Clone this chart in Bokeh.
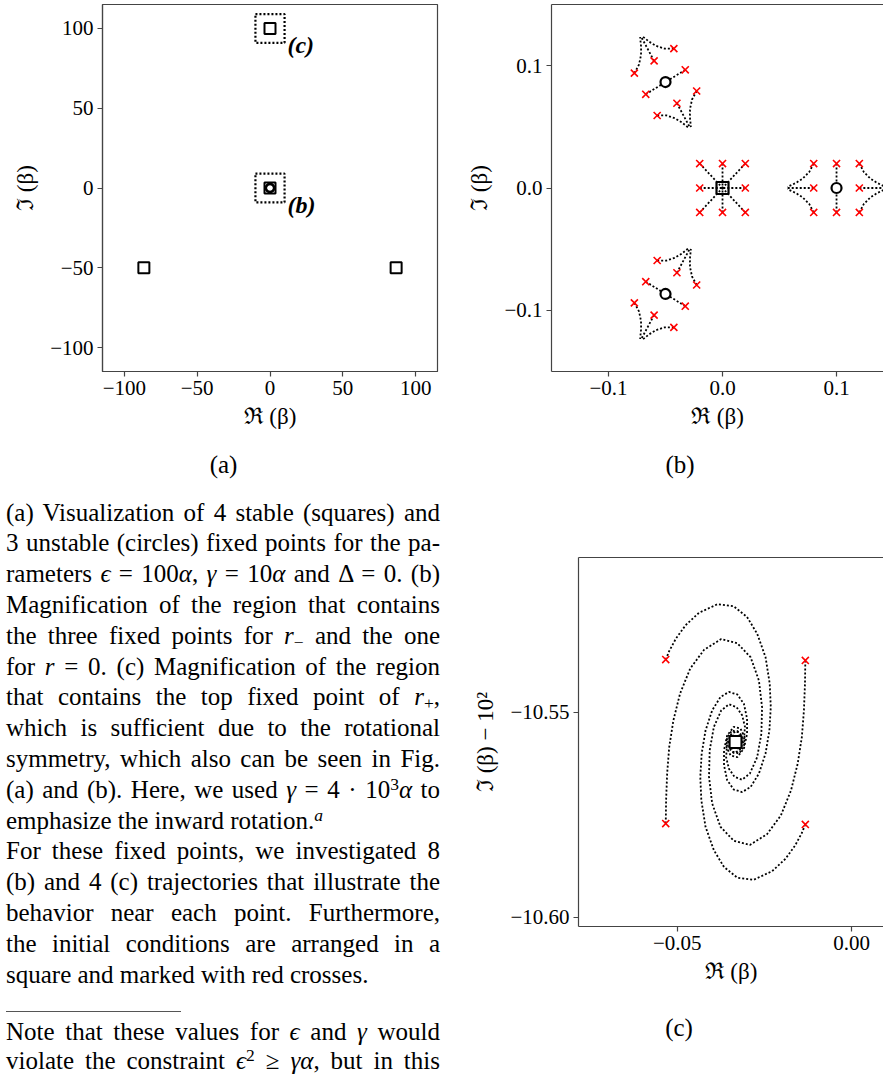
import math
from bokeh.plotting import figure
from bokeh.models import Range1d, FixedTicker, LinearAxis, Div
from bokeh.layouts import row, column
from bokeh.core.properties import value
from bokeh.embed import file_html
from bokeh.resources import INLINE

# ---------------- data: panel (a) ----------------
a_sq_x = [0.0, -86.6, 86.6, 0.0]
a_sq_y = [100.0, -50.0, -50.0, 0.0]
a_circ_x = [0.1, -0.05, -0.05]
a_circ_y = [0.0, 0.0866, -0.0866]
a_box_x = [0.0, 0.0]
a_box_y = [100.0, 0.0]
a_box_w = [20.0, 20.0]
a_box_h = [18.0, 18.0]
a_lbl_x = [12.0, 12.0]
a_lbl_y = [89.5, -10.5]
a_lbl_text = ["(c)", "(b)"]
a_ticks = [-100, -50, 0, 50, 100]
a_tick_labels = ["\u2212100", "\u221250", "0", "50", "100"]

# ---------------- data: panel (b) ----------------
b_sq_x = [0.0]
b_sq_y = [0.0]
b_circ_x = [0.1, -0.05, -0.05]
b_circ_y = [0.0, 0.0866, -0.0866]
# clusters: centre and orientation (deg) of the square of initial conditions
b_cluster_x = [0.0, 0.1, -0.05, -0.05]
b_cluster_y = [0.0, 0.0, 0.0866, -0.0866]
b_cluster_angle = [0, 0, 120, 240]
b_cluster_kind = ["node", "saddle", "saddle", "saddle"]
# initial conditions (offsets from the fixed point)
b_cross_dx = [-0.02, 0.0, 0.02, -0.02, 0.02, -0.02, 0.0, 0.02]
b_cross_dy = [0.02, 0.02, 0.02, 0.0, 0.0, -0.02, -0.02, -0.02]
# trajectories near the saddle (offsets, unrotated)
saddle_traj_dx = [
    [0.0, 0.0],
    [0.0, 0.0],
    [-0.02, -0.043],
    [0.02, 0.043],
    [-0.02, -0.024, -0.0298, -0.0357, -0.0415, -0.043],
    [-0.02, -0.024, -0.0298, -0.0357, -0.0415, -0.043],
    [0.02, 0.024, 0.0298, 0.0357, 0.0415, 0.043],
    [0.02, 0.024, 0.0298, 0.0357, 0.0415, 0.043],
]
saddle_traj_dy = [
    [0.02, 0.0],
    [-0.02, 0.0],
    [0.0, 0.0],
    [0.0, 0.0],
    [0.02, 0.013, 0.0076, 0.0041, 0.0016, 0.0008],
    [-0.02, -0.013, -0.0076, -0.0041, -0.0016, -0.0008],
    [0.02, 0.013, 0.0076, 0.0041, 0.0016, 0.0008],
    [-0.02, -0.013, -0.0076, -0.0041, -0.0016, -0.0008],
]
b_ticks = [-0.1, 0.0, 0.1]
b_tick_labels = ["\u22120.1", "0.0", "0.1"]

# ---------------- data: panel (c) ----------------
c_sq_x = [-0.0333]
c_sq_y = [-10.5573]
c_cross_x = [-0.0533, -0.0133, -0.0533, -0.0133]
c_cross_y = [-10.5372, -10.5374, -10.5772, -10.5774]
spiral_tl_x = [-0.0533, -0.0523, -0.0504, -0.0476, -0.0438, -0.0385, -0.0338, -0.0300, -0.0271, -0.0247,
               -0.0235, -0.0232, -0.0236, -0.0247, -0.0266, -0.0290, -0.0314, -0.0338, -0.0357, -0.0366,
               -0.0366, -0.0357, -0.0338, -0.0319, -0.0307, -0.0309, -0.0323, -0.0340, -0.0347, -0.0338, -0.0333]
spiral_tl_y = [-10.5372, -10.5351, -10.5321, -10.5288, -10.5258, -10.5237, -10.5242, -10.5268, -10.5309, -10.5366,
               -10.5431, -10.5488, -10.5545, -10.5601, -10.5650, -10.5683, -10.5695, -10.5689, -10.5666, -10.5630,
               -10.5593, -10.5557, -10.5536, -10.5540, -10.5561, -10.5585, -10.5601, -10.5597, -10.5581, -10.5569, -10.5573]
spiral_br_x = [-0.0133, -0.0143, -0.0162, -0.0190, -0.0228, -0.0281, -0.0328, -0.0366, -0.0395, -0.0419,
               -0.0431, -0.0434, -0.0430, -0.0419, -0.0400, -0.0376, -0.0352, -0.0328, -0.0309, -0.0300,
               -0.0300, -0.0309, -0.0328, -0.0347, -0.0359, -0.0357, -0.0343, -0.0326, -0.0319, -0.0328, -0.0333]
spiral_br_y = [-10.5774, -10.5795, -10.5825, -10.5858, -10.5888, -10.5909, -10.5904, -10.5878, -10.5837, -10.5780,
               -10.5715, -10.5658, -10.5601, -10.5545, -10.5496, -10.5463, -10.5451, -10.5457, -10.5480, -10.5516,
               -10.5553, -10.5589, -10.5610, -10.5606, -10.5585, -10.5561, -10.5545, -10.5549, -10.5565, -10.5577, -10.5573]
spiral_bl_x = [-0.0533, -0.0532, -0.0529, -0.0523, -0.0511, -0.0492, -0.0463, -0.0423, -0.0374, -0.0328,
               -0.0290, -0.0266, -0.0257, -0.0259, -0.0271, -0.0292, -0.0314, -0.0336, -0.0352, -0.0360,
               -0.0357, -0.0345, -0.0328, -0.0315, -0.0314, -0.0325, -0.0338, -0.0333]
spiral_bl_y = [-10.5772, -10.5715, -10.5650, -10.5585, -10.5520, -10.5455, -10.5394, -10.5348, -10.5322, -10.5332,
               -10.5366, -10.5423, -10.5488, -10.5553, -10.5610, -10.5650, -10.5665, -10.5658, -10.5638, -10.5610,
               -10.5577, -10.5553, -10.5546, -10.5557, -10.5577, -10.5589, -10.5585, -10.5573]
spiral_tr_x = [-0.0133, -0.0134, -0.0137, -0.0143, -0.0155, -0.0174, -0.0203, -0.0243, -0.0292, -0.0338,
               -0.0376, -0.0400, -0.0409, -0.0407, -0.0395, -0.0374, -0.0352, -0.0330, -0.0314, -0.0306,
               -0.0309, -0.0321, -0.0338, -0.0351, -0.0352, -0.0341, -0.0328, -0.0333]
spiral_tr_y = [-10.5374, -10.5431, -10.5496, -10.5561, -10.5626, -10.5691, -10.5752, -10.5798, -10.5824, -10.5814,
               -10.5780, -10.5723, -10.5658, -10.5593, -10.5536, -10.5496, -10.5481, -10.5488, -10.5508, -10.5536,
               -10.5569, -10.5593, -10.5600, -10.5589, -10.5569, -10.5557, -10.5561, -10.5573]
c_xticks = [-0.05, 0.0]
c_xtick_labels = ["\u22120.05", "0.00"]
c_yticks = [-10.60, -10.55]
c_ytick_labels = ["\u221210.60", "\u221210.55"]

# ---------------- styling helpers ----------------
FONT = "Liberation Serif"
FRAME = "#444444"
DOT = "2 2"


def style_axis(ax, ticks, labels):
    ax.ticker = FixedTicker(ticks=ticks)
    ax.major_label_overrides = {t: l for t, l in zip(ticks, labels)}
    ax.major_tick_out = 5
    ax.major_tick_in = 0
    ax.minor_tick_out = 0
    ax.minor_tick_in = 0
    ax.axis_line_color = FRAME
    ax.axis_line_width = 1.2
    ax.major_tick_line_color = FRAME
    ax.major_tick_line_width = 1.2
    ax.major_label_text_font = FONT
    ax.major_label_text_font_size = "21px"
    ax.major_label_text_color = "black"
    ax.major_label_standoff = 4
    ax.axis_label_text_font = FONT
    ax.axis_label_text_font_size = "23px"
    ax.axis_label_text_font_style = "normal"
    ax.axis_label_text_color = "black"
    ax.axis_label_standoff = 6


def make_fig(w, h, xr, yr, borders, xt, xl, yt, yl, xlabel, ylabel, open_right):
    p = figure(width=w, height=h, x_range=Range1d(*xr), y_range=Range1d(*yr),
               output_backend="svg", toolbar_location=None,
               min_border_left=borders[0], min_border_top=borders[1],
               min_border_bottom=borders[2], min_border_right=borders[3],
               x_axis_label=xlabel, y_axis_label=ylabel)
    p.grid.visible = False
    p.background_fill_color = "white"
    p.border_fill_color = "white"
    style_axis(p.xaxis[0], xt, xl)
    style_axis(p.yaxis[0], yt, yl)
    p.yaxis[0].axis_label_standoff = 9
    if open_right:
        p.outline_line_color = None
        top = LinearAxis(ticker=FixedTicker(ticks=[]), major_tick_out=0, major_tick_in=0,
                         minor_tick_out=0, minor_tick_in=0, major_label_standoff=0,
                         major_label_text_font_size="0px", axis_line_color=FRAME,
                         axis_line_width=1.2)
        p.add_layout(top, "above")
    else:
        p.outline_line_color = FRAME
        p.outline_line_width = 1.2
    return p


def rot(cx, cy, ang, dx, dy):
    c, s = math.cos(math.radians(ang)), math.sin(math.radians(ang))
    return ([cx + c * u - s * v for u, v in zip(dx, dy)],
            [cy + s * u + c * v for u, v in zip(dx, dy)])


# ---------------- panel (a) ----------------
pa = make_fig(440, 440, (-115, 115), (-115, 115), (102, 4, 69, 3),
              a_ticks, a_tick_labels, a_ticks, a_tick_labels,
              "\u211c (\u03b2)", "\u2111 (\u03b2)", False)
pa.rect(x=a_box_x, y=a_box_y, width=a_box_w, height=a_box_h, fill_color=None,
        line_color="black", line_width=2.2, line_dash="2 2")
pa.scatter(a_sq_x, a_sq_y, marker="square", size=11, fill_color=None,
           line_color="black", line_width=2)
pa.scatter(a_circ_x, a_circ_y, marker="circle", size=8, fill_color=None,
           line_color="black", line_width=2)
pa.text(x=a_lbl_x, y=a_lbl_y, text=a_lbl_text, text_font=value(FONT),
        text_font_style="bold italic", text_font_size="24px",
        text_baseline="middle", text_align="left", text_color="black")

# ---------------- panel (b) ----------------
pb = make_fig(443, 440, (-0.15, 0.1412), (-0.15, 0.15), (111, 4, 69, 0),
              b_ticks, b_tick_labels, b_ticks, b_tick_labels,
              "\u211c (\u03b2)", "\u2111 (\u03b2)", True)
txs, tys, cxs, cys = [], [], [], []
for cx, cy, ang, kind in zip(b_cluster_x, b_cluster_y, b_cluster_angle, b_cluster_kind):
    if kind == "node":
        for dx, dy in zip(b_cross_dx, b_cross_dy):
            xs, ys = rot(cx, cy, ang, [dx, 0.0], [dy, 0.0])
            txs.append(xs)
            tys.append(ys)
    else:
        for dxs, dys in zip(saddle_traj_dx, saddle_traj_dy):
            xs, ys = rot(cx, cy, ang, dxs, dys)
            txs.append(xs)
            tys.append(ys)
    xs, ys = rot(cx, cy, ang, b_cross_dx, b_cross_dy)
    cxs += xs
    cys += ys
pb.multi_line(xs=txs, ys=tys, line_color="black", line_width=1.8, line_dash=DOT)
pb.scatter(cxs, cys, marker="x", size=10, line_color="red", line_width=1.6)
pb.scatter(b_sq_x, b_sq_y, marker="square", size=12, fill_color=None,
           line_color="black", line_width=2.2)
pb.scatter(b_circ_x, b_circ_y, marker="circle", size=10, fill_color="white",
           line_color="black", line_width=2.2)

# ---------------- panel (c) ----------------
pc = make_fig(413, 510, (-0.0783, 0.0091), (-10.6023, -10.5123), (107, 67, 74, 0),
              c_xticks, c_xtick_labels, c_yticks, c_ytick_labels,
              "\u211c (\u03b2)", "\u2111 (\u03b2) \u2212 10\u00b2", True)
pc.multi_line(xs=[spiral_tl_x, spiral_br_x, spiral_bl_x, spiral_tr_x],
              ys=[spiral_tl_y, spiral_br_y, spiral_bl_y, spiral_tr_y],
              line_color="black", line_width=1.8, line_dash=DOT)
pc.scatter(c_cross_x, c_cross_y, marker="x", size=10, line_color="red", line_width=1.6)
pc.scatter(c_sq_x, c_sq_y, marker="square", size=12, fill_color="white",
           line_color="black", line_width=2.2)

# ---------------- text ----------------
J = "white-space:nowrap;text-align:justify;text-align-last:justify;"
L = "white-space:nowrap;text-align:left;"
SUB = "font-size:0.7em;line-height:0;vertical-align:-0.25em;"
SUP = "font-size:0.7em;line-height:0;vertical-align:0.45em;"
body_lines = [
    (J, "(a) Visualization of 4 stable (squares) and"),
    (J, "3 unstable (circles) fixed points for the pa-"),
    (J, "rameters <i>\u03f5</i> = 100<i>\u03b1</i>, <i>\u03b3</i> = 10<i>\u03b1</i> and \u0394 = 0. (b)"),
    (J, "Magnification of the region that contains"),
    (J, "the three fixed points for <i>r</i><span style='%s'>\u2212</span> and the one" % SUB),
    (J, "for <i>r</i> = 0. (c) Magnification of the region"),
    (J, "that contains the top fixed point of <i>r</i><span style='%s'>+</span>," % SUB),
    (J, "which is sufficient due to the rotational"),
    (J, "symmetry, which also can be seen in Fig."),
    (J, "(a) and (b). Here, we used <i>\u03b3</i> = 4 \u00b7 10<span style='%s'>3</span><i>\u03b1</i> to" % SUP),
    (L, "emphasize the inward rotation.<span style='%s'><i>a</i></span>" % SUP),
    (J, "For these fixed points, we investigated 8"),
    (J, "(b) and 4 (c) trajectories that illustrate the"),
    (J, "behavior near each point. Furthermore,"),
    (J, "the initial conditions are arranged in a"),
    (L, "square and marked with red crosses."),
]
foot_lines = [
    (J, "Note that these values for <i>\u03f5</i> and <i>\u03b3</i> would"),
    (J, "violate the constraint <i>\u03f5</i><span style='%s'>2</span> \u2265 <i>\u03b3\u03b1</i>, but in this" % SUP),
]

body_html = "".join("<div style='%s'>%s</div>" % (s, t) for s, t in body_lines)
foot_html = "".join("<div style='%s'>%s</div>" % (s, t) for s, t in foot_lines)
LEFT_H = 635
left_html = (
    "<div style=\"position:relative;width:470px;height:%dpx;"
    "font-family:'Liberation Serif',serif;color:#000;\">" % LEFT_H +
    "<div style='position:absolute;left:223.5px;top:25px;transform:translate(-50%,-50%);"
    "font-size:25px;line-height:30px;white-space:nowrap'>(a)</div>"
    "<div style='position:absolute;left:6px;top:57.6px;width:434px;font-size:25px;line-height:30.8px'>"
    + body_html +
    "</div>"
    "<div style='position:absolute;left:6px;top:570.5px;width:175px;height:0;border-top:1px solid #555'></div>"
    "<div style='position:absolute;left:6px;top:576.5px;width:434px;font-size:25px;line-height:29px'>"
    + foot_html +
    "</div></div>"
)
left_div = Div(text=left_html, width=470, height=LEFT_H, margin=0)


def cap_html(label, cx, cy, w, h):
    return ("<div style=\"position:relative;width:%dpx;height:%dpx;font-family:'Liberation Serif',serif;color:#000\">"
            "<div style='position:absolute;left:%.1fpx;top:%.1fpx;transform:translate(-50%%,-50%%);"
            "font-size:25px;line-height:30px;white-space:nowrap'>%s</div></div>" % (w, h, cx, cy, label))


cap_b = Div(text=cap_html("(b)", 210, 25, 413, 50), width=413, height=50, margin=0)
cap_c = Div(text=cap_html("(c)", 209, 28, 413, 75), width=413, height=75, margin=0)

layout = column(
    row(pa, pb, spacing=0),
    row(left_div, column(cap_b, pc, cap_c, spacing=0), spacing=0),
    spacing=0,
)

open("out.html", "w").write(file_html(layout, INLINE))
